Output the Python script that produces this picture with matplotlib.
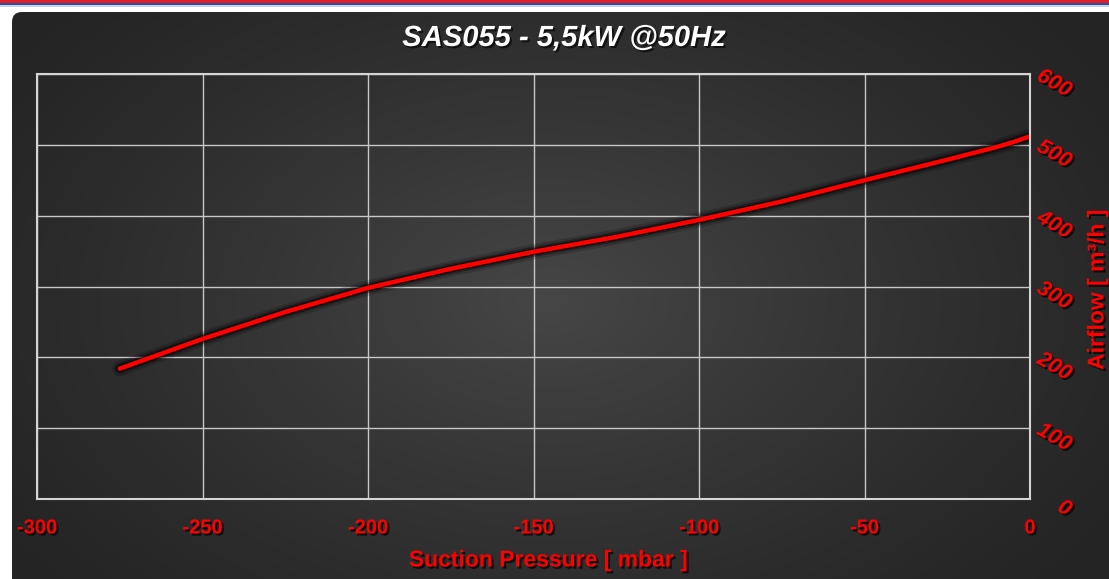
import numpy as np
import matplotlib
matplotlib.use("Agg")
import matplotlib.pyplot as plt
import matplotlib.patheffects as pe
from matplotlib.patches import FancyBboxPatch, Rectangle
from matplotlib.transforms import ScaledTranslation

# ---- data ----
pressure = [-275, -250, -225, -200, -175, -150, -125, -100, -75, -50, -25, -10, -5, 0]
airflow = [184, 226, 264, 298, 325, 349, 370, 394, 420, 450, 479, 497, 504, 512]
x_ticks = [-300, -250, -200, -150, -100, -50, 0]
y_ticks = [0, 100, 200, 300, 400, 500, 600]
title = "SAS055 - 5,5kW @50Hz"
xlabel = "Suction Pressure [ mbar ]"
ylabel = "Airflow [ m³/h ]"

W, H = 1109, 579
fig = plt.figure(figsize=(W / 100, H / 100), dpi=100)
fig.patch.set_facecolor("white")

# background card with radial gradient
bg = fig.add_axes([0, 0, 1, 1], zorder=-10)
bg.set_xlim(0, W)
bg.set_ylim(H, 0)
bg.axis("off")
yy, xx = np.mgrid[0:H, 0:W]
r = np.sqrt(((xx - 550) / 650.0) ** 2 + ((yy - 300) / 420.0) ** 2)
v = 0.145 + 0.13 * np.clip(1 - r, 0, 1) ** 1.2
img = np.dstack([v, v, v])
im = bg.imshow(img, extent=(0, W, H, 0), interpolation="bilinear")
card = FancyBboxPatch((12, 12), 1200, 700, boxstyle="round,pad=0,rounding_size=10",
                      facecolor="none", edgecolor="none", transform=bg.transData)
bg.add_patch(card)
im.set_clip_path(card)
# top strip
bg.add_patch(Rectangle((0, 0), W, 2.5, facecolor="#e21f26", edgecolor="none"))
bg.add_patch(Rectangle((0, 2.5), W, 2.5, facecolor="#2a4fa0", edgecolor="none"))
bg.add_patch(Rectangle((0, 5), W, 2, facecolor="#c9d3e6", edgecolor="none"))

ax = fig.add_axes([37 / W, 1 - 499 / H, (1030 - 37) / W, (499 - 74) / H])
ax.set_facecolor("none")
ax.set_xlim(-300, 0)
ax.set_ylim(0, 600)
ax.set_xticks(x_ticks)
ax.set_yticks(y_ticks)
ax.grid(True, color="#c8c8c8", linewidth=1.0)
ax.set_axisbelow(True)
for s in ax.spines.values():
    s.set_color("#d4d4d4")
    s.set_linewidth(1.5)
ax.tick_params(length=0)

shadow = [pe.withSimplePatchShadow(offset=(1.5, -1.5), shadow_rgbFace="black", alpha=0.75)]
fam = ["Liberation Sans", "DejaVu Sans"]

ax.plot(pressure, airflow, color="#ff0000", linewidth=3.2, solid_capstyle="round",
        solid_joinstyle="round",
        path_effects=[pe.Stroke(linewidth=11, foreground="black", alpha=0.18),
                      pe.Stroke(linewidth=7.5, foreground="black", alpha=0.35),
                      pe.Stroke(linewidth=5, foreground="black", alpha=0.6),
                      pe.Normal()])

ax.set_xticklabels([str(t) for t in x_ticks], color="#ff0000", fontsize=14.5,
                   fontweight="bold", family=fam)
for lab in ax.get_xticklabels():
    lab.set_path_effects(shadow)
ax.tick_params(axis="x", pad=14)

ax.yaxis.tick_right()
ax.set_yticklabels([str(t) for t in y_ticks], color="#ff0000", fontsize=15.5,
                   fontweight="bold", style="italic", rotation=-30, family=fam)
ax.tick_params(axis="y", pad=32.4)
off = ScaledTranslation(0, -9.5 / 100, fig.dpi_scale_trans)
for lab in ax.get_yticklabels():
    lab.set_horizontalalignment("right")
    lab.set_verticalalignment("center")
    lab.set_path_effects(shadow)
    lab.set_transform(lab.get_transform() + off)

fig.text(1097 / W, 1 - 290 / H, ylabel, rotation=90, ha="center", va="center",
         color="#ff0000", fontsize=16.5, fontweight="bold", family=fam,
         path_effects=shadow)
fig.text(548 / W, 1 - 560 / H, xlabel, ha="center", va="center",
         color="#ff0000", fontsize=16.5, fontweight="bold", family=fam,
         path_effects=shadow)
fig.text(564 / W, 1 - 38 / H, title, ha="center", va="center",
         color="white", fontsize=21, fontweight="bold", style="italic", family=fam,
         path_effects=[pe.withSimplePatchShadow(offset=(1.5, -1.5), shadow_rgbFace="black", alpha=0.6)])

fig.savefig("out.png", dpi=100, facecolor=fig.get_facecolor())
